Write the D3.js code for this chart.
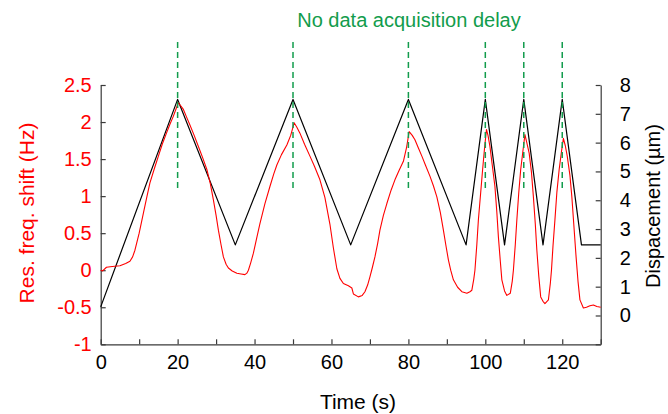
<!DOCTYPE html>
<html>
<head>
<meta charset="utf-8">
<script src="https://cdn.jsdelivr.net/npm/d3@7"></script>
<style>
  html, body { margin: 0; padding: 0; background: #fff; }
  svg { display: block; font-family: "Liberation Sans", Arial, sans-serif; }
</style>
</head>
<body>
<svg id="chart" width="668" height="414"></svg>
<script>
// ---------------- DATA ----------------
const title = "No data acquisition delay";
const xLabel = "Time (s)";
const yLeftLabel = "Res. freq. shift (Hz)";
const yRightLabel = "Dispacement (\u00b5m)";

// Resonance frequency shift (Hz), left axis
const freqTime = [0, 0.5, 1.5, 3, 5, 6.5, 7.6, 8.3, 8.9, 10, 11.1, 12, 12.8, 14, 15, 16, 17.1, 18, 18.9, 19.6,
  20.2, 20.8, 21.5, 22.3, 23.2, 24.3, 25.4, 26.5, 27.6, 28.5, 29.3, 30, 30.6, 31.3, 31.9, 32.6, 33.2, 34.2, 35.4, 36.5,
  37.5, 38, 38.4, 39, 39.7, 40.5, 41.4, 42.7, 44, 45, 45.8, 47, 48.4, 49.4, 50.3, 51, 51.8, 53, 54.4, 55.6,
  57, 58.3, 59.6, 60.5, 61.4, 62.2, 63.1, 64.4, 65.3, 65.7, 67, 68, 68.7, 69.4, 70, 70.6, 71.3, 72, 72.6, 73.5,
  74.4, 75.5, 76.5, 77.6, 78.7, 79.5, 80.2, 81, 81.7, 82.6, 83.5, 84.5, 85.6, 86.5, 87.4, 88.3, 89.1, 89.8, 90.4, 91,
  91.7, 92.8, 93.9, 95.2, 96, 96.5, 97, 97.3, 97.8, 98.2, 98.8, 99.3, 99.8, 100.3, 100.7, 101.2, 101.8, 102.5, 103, 103.4,
  103.9, 104.3, 105, 105.6, 106.5, 107, 107.3, 107.8, 108.2, 108.7, 109.2, 109.8, 110.3, 110.8, 111.4, 112, 112.5, 113, 113.4, 113.9,
  114.4, 115, 115.5, 116.4, 116.9, 117.2, 117.6, 118.1, 118.6, 119.2, 119.8, 120.3, 120.8, 121.3, 122, 122.5, 123, 123.6, 124.1, 124.6,
  125.5, 126.3, 127.2, 128.1, 129, 130];
const freqShift = [0.0, -0.01, 0.04, 0.05, 0.06, 0.09, 0.12, 0.18, 0.27, 0.50, 0.77, 0.99, 1.18, 1.38, 1.54, 1.70, 1.85, 1.97, 2.08, 2.18,
  2.26, 2.22, 2.17, 2.07, 1.96, 1.82, 1.67, 1.52, 1.36, 1.17, 0.95, 0.74, 0.54, 0.34, 0.18, 0.08, 0.03, -0.01, -0.04, -0.05,
  -0.06, -0.04, 0.0, 0.10, 0.23, 0.42, 0.63, 0.90, 1.13, 1.30, 1.42, 1.56, 1.69, 1.82, 1.99, 1.93, 1.85, 1.70, 1.54, 1.40,
  1.22, 0.98, 0.62, 0.30, 0.02, -0.11, -0.18, -0.21, -0.24, -0.32, -0.36, -0.34, -0.29, -0.20, -0.09, 0.03, 0.18, 0.36, 0.54, 0.74,
  0.90, 1.08, 1.22, 1.35, 1.47, 1.65, 1.87, 1.82, 1.76, 1.65, 1.54, 1.41, 1.27, 1.14, 0.99, 0.78, 0.54, 0.32, 0.14, 0.00,
  -0.13, -0.23, -0.29, -0.31, -0.29, -0.27, -0.12, 0.0, 0.35, 0.68, 1.05, 1.36, 1.65, 1.90, 1.82, 1.67, 1.42, 1.13, 0.78, 0.45,
  0.12, -0.13, -0.28, -0.34, -0.31, -0.15, 0.0, 0.35, 0.68, 1.05, 1.36, 1.62, 1.83, 1.72, 1.58, 1.32, 0.99, 0.62, 0.27, -0.08,
  -0.36, -0.42, -0.45, -0.40, -0.18, 0.0, 0.33, 0.68, 1.05, 1.36, 1.60, 1.78, 1.68, 1.54, 1.28, 0.99, 0.62, 0.18, -0.15, -0.40,
  -0.51, -0.50, -0.48, -0.47, -0.49, -0.50];

// Displacement (um), right axis
const dispTime = [0, 20, 35, 50, 65, 80, 95, 100, 105, 110, 115, 120, 125, 130];
const dispValue = [0.3, 7.5, 2.45, 7.5, 2.45, 7.5, 2.45, 7.5, 2.45, 7.5, 2.45, 7.5, 2.45, 2.45];

// Peak markers (s) and their vertical extent in left-axis units
const peakTimes = [20, 50, 80, 100, 110, 120];
const markerExtent = [1.08, 3.08];

// Axes
const xDomain = [0, 130];
const xTicks = [0, 10, 20, 30, 40, 50, 60, 70, 80, 90, 100, 110, 120, 130];
const xTickLabels = ["0", "", "20", "", "40", "", "60", "", "80", "", "100", "", "120", ""];
const yLeftDomain = [-1, 2.5];
const yLeftTicks = [-1, -0.5, 0, 0.5, 1, 1.5, 2, 2.5];
const yLeftTickLabels = ["-1", "-0.5", "0", "0.5", "1", "1.5", "2", "2.5"];
const yRightDomain = [-1, 8];
const yRightTicks = [-1, 0, 1, 2, 3, 4, 5, 6, 7, 8];
const yRightTickLabels = ["", "0", "1", "2", "3", "4", "5", "6", "7", "8"];

// ---------------- DRAW ----------------
const svg = d3.select("#chart");
const plot = { left: 100.7, right: 600.7, top: 85, bottom: 344.3 };
const RED = "#ff0000", GREEN = "#129c4c", AXIS = "#3a3a3a";

const x = d3.scaleLinear().domain(xDomain).range([plot.left, plot.right]);
const yL = d3.scaleLinear().domain(yLeftDomain).range([plot.bottom, plot.top]);
const yR = d3.scaleLinear().domain(yRightDomain).range([plot.bottom, plot.top]);

function styleAxis(g, color) {
  g.select(".domain").attr("stroke", AXIS).attr("stroke-width", 1.2);
  g.selectAll(".tick line").attr("stroke", AXIS).attr("stroke-width", 1.2);
  g.selectAll(".tick text").attr("fill", color).attr("font-size", 20)
    .attr("font-family", "Liberation Sans, Arial, sans-serif");
}

// bottom axis
const gx = svg.append("g").attr("transform", `translate(0,${plot.bottom})`)
  .call(d3.axisBottom(x).tickValues(xTicks)
    .tickFormat((d, i) => xTickLabels[i])
    .tickSizeInner(-5).tickSizeOuter(0).tickPadding(11));
styleAxis(gx, "#000");

// left axis
const gl = svg.append("g").attr("transform", `translate(${plot.left},0)`)
  .call(d3.axisLeft(yL).tickValues(yLeftTicks)
    .tickFormat((d, i) => yLeftTickLabels[i])
    .tickSizeInner(-5).tickSizeOuter(0).tickPadding(9));
styleAxis(gl, RED);

// right axis
const gr = svg.append("g").attr("transform", `translate(${plot.right},0)`)
  .call(d3.axisRight(yR).tickValues(yRightTicks)
    .tickFormat((d, i) => yRightTickLabels[i])
    .tickSizeInner(-5).tickSizeOuter(0).tickPadding(19));
styleAxis(gr, "#000");

// displacement line (black)
const dispData = dispTime.map((t, i) => [t, dispValue[i]]);
svg.append("path").datum(dispData)
  .attr("fill", "none").attr("stroke", "#000").attr("stroke-width", 1.2)
  .attr("stroke-linejoin", "round")
  .attr("d", d3.line().x(d => x(d[0])).y(d => yR(d[1])));

// frequency shift line (red)
const freqData = freqTime.map((t, i) => [t, freqShift[i]]);
svg.append("path").datum(freqData)
  .attr("fill", "none").attr("stroke", RED).attr("stroke-width", 1.1)
  .attr("stroke-linejoin", "round")
  .attr("d", d3.line().x(d => x(d[0])).y(d => yL(d[1])));

// peak markers (green dashed)
svg.append("g").selectAll("line").data(peakTimes).join("line")
  .attr("x1", d => x(d)).attr("x2", d => x(d))
  .attr("y1", yL(markerExtent[1])).attr("y2", yL(markerExtent[0]))
  .attr("stroke", GREEN).attr("stroke-width", 1.5).attr("stroke-dasharray", "6,4");

// title
svg.append("text").attr("x", 409).attr("y", 27).attr("text-anchor", "middle")
  .attr("fill", GREEN).attr("font-size", 20).text(title);

// x label
svg.append("text").attr("x", 358).attr("y", 409).attr("text-anchor", "middle")
  .attr("fill", "#000").attr("font-size", 21).text(xLabel);

// left label
svg.append("text").attr("transform", "translate(26.5,213) rotate(-90)")
  .attr("text-anchor", "middle").attr("dy", "0.35em")
  .attr("fill", RED).attr("font-size", 21).text(yLeftLabel);

// right label
svg.append("text").attr("transform", "translate(653,206) rotate(-90)")
  .attr("text-anchor", "middle").attr("dy", "0.35em")
  .attr("fill", "#000").attr("font-size", 20).text(yRightLabel);
</script>
</body>
</html>
